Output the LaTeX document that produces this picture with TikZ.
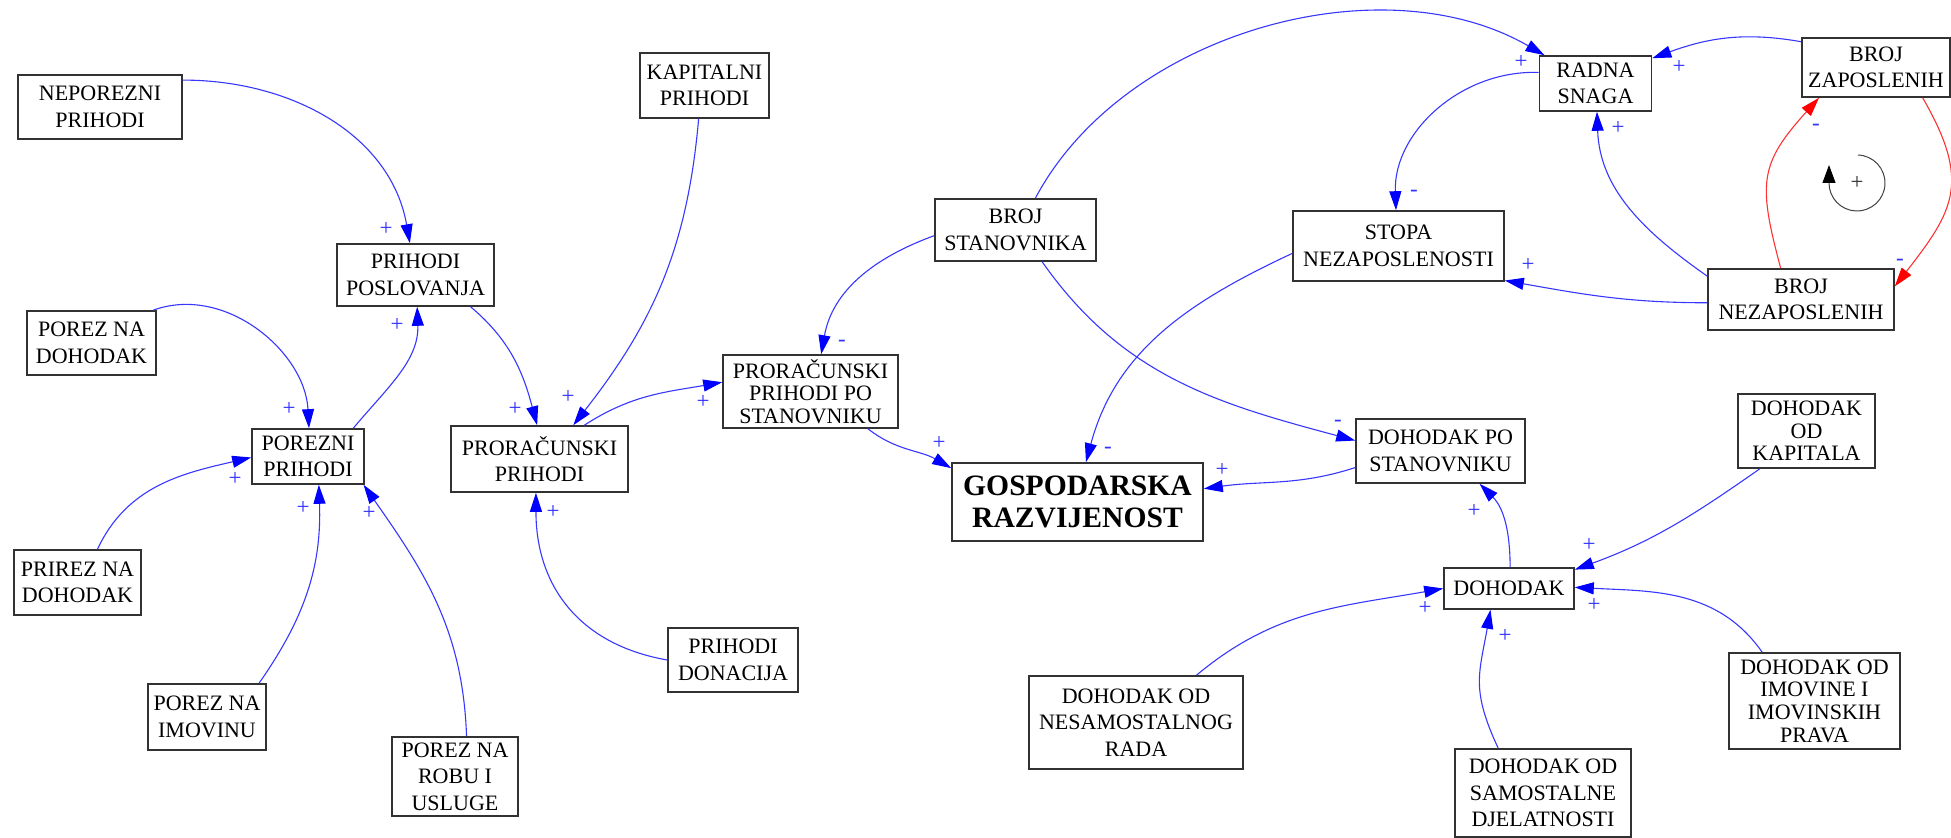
\documentclass[tikz,border=0pt]{standalone}
\usepackage{fontspec}
\setmainfont{Liberation Serif}
\usetikzlibrary{arrows.meta}
\definecolor{boxc}{RGB}{50,50,50}
\definecolor{lineblue}{RGB}{55,55,255}
\definecolor{tipblue}{RGB}{0,0,255}
\definecolor{linered}{RGB}{255,50,50}
\definecolor{tipred}{RGB}{255,0,0}
\definecolor{lblblue}{RGB}{50,50,255}
\tikzset{
  box/.style={draw=boxc, line width=0.8pt, align=center, inner sep=0pt, fill=white,
    font=\fontsize{11}{13.3}\selectfont},
  tight/.style={font=\fontsize{11}{11.3}\selectfont},
  title/.style={font=\fontsize{14.8}{16}\selectfont\bfseries},
  sz/.style 2 args={minimum width=#1*0.5pt, minimum height=#2*0.5pt},
  con/.style={draw=lineblue, line width=0.55pt, -{Triangle[length=9.5pt,width=6pt,color=tipblue]}},
  conr/.style={draw=linered, line width=0.55pt, -{Triangle[length=9.5pt,width=6pt,color=tipred]}},
  lbl/.style={text=lblblue, font=\fontsize{11.5}{11.5}\selectfont, inner sep=0pt}
}
\begin{document}
\begin{tikzpicture}[x=0.5pt,y=-0.5pt]
\fill[white] (0,0) rectangle (1951,838);
\useasboundingbox (0,0) rectangle (1951,838);

% nodes
\node[box, sz={164}{64}] (nep) at (100,107) {NEPOREZNI\\PRIHODI};
\node[box, sz={157}{62}] (pp) at (415.5,275) {PRIHODI\\POSLOVANJA};
\node[box, sz={129}{64}] (pnd) at (91.5,343) {POREZ NA\\DOHODAK};
\node[box, sz={112}{55}] (porp) at (308,456.5) {POREZNI\\PRIHODI};
\node[box, sz={177}{66}] (prp) at (539.5,459) {PRORAČUNSKI\\PRIHODI};
\node[box, sz={127}{65}] (prirez) at (77.5,582.5) {PRIREZ NA\\DOHODAK};
\node[box, sz={118}{66}] (imov) at (207,717) {POREZ NA\\IMOVINU};
\node[box, sz={126}{79}] (robu) at (455,776.5) {POREZ NA\\ROBU I\\USLUGE};
\node[box, sz={129}{65}] (kap) at (704.5,85.5) {KAPITALNI\\PRIHODI};
\node[box, sz={161}{62}] (bs) at (1015.5,230) {BROJ\\STANOVNIKA};
\node[box, tight, sz={175}{73}] (pps) at (810.5,391.5) {PRORAČUNSKI\\PRIHODI PO\\STANOVNIKU};
\node[box, sz={130}{64}] (don) at (733,660) {PRIHODI\\DONACIJA};
\node[box, title, sz={251}{78}] (gr) at (1077.5,502) {GOSPODARSKA\\RAZVIJENOST};
\node[box, sz={169}{64}] (dps) at (1440.5,451) {DOHODAK PO\\STANOVNIKU};
\node[box, sz={112}{55}] (rs) at (1595.5,83.5) {RADNA\\SNAGA};
\node[box, sz={148}{59}] (bz) at (1876,67.5) {BROJ\\ZAPOSLENIH};
\node[box, sz={211}{70}] (sn) at (1398.5,246) {STOPA\\NEZAPOSLENOSTI};
\node[box, sz={186}{61}] (bn) at (1801,299.5) {BROJ\\NEZAPOSLENIH};
\node[box, tight, sz={137}{74}] (dok) at (1806.5,431) {DOHODAK\\OD\\KAPITALA};
\node[box, sz={130}{41}] (doh) at (1509,588.5) {DOHODAK};
\node[box, sz={214}{93}] (nes) at (1136,722.5) {DOHODAK OD\\NESAMOSTALNOG\\RADA};
\node[box, sz={176}{88}] (sam) at (1543,793) {DOHODAK OD\\SAMOSTALNE\\DJELATNOSTI};
\node[box, tight, sz={171}{96}] (imp) at (1814.5,701) {DOHODAK OD\\IMOVINE I\\IMOVINSKIH\\PRAVA};

% connectors
\draw[con] (nep.18) to[out=0,in=100] (pp.100);
\draw[con] (pnd.28) to[out=20,in=93] (porp.88);
\draw[con] (porp.32) to[out=50,in=-88] (pp.-87);
\draw[con] (pp.-30) to[out=-40,in=105] (prp.94);
\draw[con] (kap.-100) to[out=-95,in=52] (prp.45);
\draw[con] (prp.37) to[out=33,in=190] (pps.174);
\draw[con] (prirez.59) to[out=65,in=193] (porp.181);
\draw[con] (imov.33) to[out=55,in=-88] (porp.-69);
\draw[con] (robu.74) to[out=92,in=-55] (porp.-27);
\draw[con] (don.180) to[out=170,in=-90,looseness=1.1] (prp.-96);
\draw[con] (bs.184) to[out=200,in=80] (pps.74);
\draw[con] (pps.-33) to[out=-38,in=150] (gr.165);
\draw[con] (bs.58) to[out=62,in=150,looseness=0.91] (rs.151);
\draw[con] (bs.-50) to[out=-55,in=165] (dps.173);
\draw[con] (sn.184) to[out=205,in=75] (gr.78);
\draw[con] (dps.191) to[out=198,in=8] (gr.6);
\draw[con] (rs.169) to[out=178,in=92] (sn.94);
\draw[con] (bz.161) to[out=170,in=20] (rs.24);
\draw[con] (bn.166) to[out=145,in=-88] (rs.-87);
\draw[con] (bn.182) to[out=180,in=-10] (sn.-18);
\draw[conr] (bn.123) to[out=105,in=228,looseness=1.3] (bz.208);
\draw[conr] (bz.-33) to[out=-60,in=52,looseness=1.3] (bn.8);
\draw[con] (doh.87) to[out=90,in=-45] (dps.-40.5);
\draw[con] (dok.-141) to[out=-145,in=20] (doh.16);
\draw[con] (nes.38) to[out=40,in=190] (doh.180);
\draw[con] (sam.135.6) to[out=115,in=-100,looseness=1.2] (doh.-131);
\draw[con] (imp.137) to[out=125,in=-3] (doh.1);

% polarity labels
\node[lbl] (l1) at (386,229) {+};
\node[lbl] (l2) at (289,409) {+};
\node[lbl] (l3) at (397,325) {+};
\node[lbl] (l4) at (515,409) {+};
\node[lbl] (l5) at (568,397) {+};
\node[lbl] (l6) at (703,402) {+};
\node[lbl] (l7) at (235,479) {+};
\node[lbl] (l8) at (303,508) {+};
\node[lbl] (l9) at (369,513) {+};
\node[lbl] (l10) at (553,512) {+};
\node[lbl] (l11) at (842,343) {-};
\node[lbl] (l12) at (939,443) {+};
\node[lbl] (l13) at (1521,62) {+};
\node[lbl] (l14) at (1338,423) {-};
\node[lbl] (l15) at (1108,450) {-};
\node[lbl] (l16) at (1222,470) {+};
\node[lbl] (l17) at (1414,193) {-};
\node[lbl] (l18) at (1679,67) {+};
\node[lbl] (l19) at (1618,128) {+};
\node[lbl] (l20) at (1528,265) {+};
\node[lbl] (l21) at (1816,127) {-};
\node[lbl] (l22) at (1900,262) {-};
\node[lbl] (l23) at (1474,511) {+};
\node[lbl] (l24) at (1589,545) {+};
\node[lbl] (l25) at (1425,608) {+};
\node[lbl] (l26) at (1505,636) {+};
\node[lbl] (l27) at (1594,605) {+};

% loop symbol
\coordinate (loopc) at (1857,183);
\draw[black!75, line width=0.5pt, -{Triangle[length=9pt,width=6.5pt,color=black]}]
  ([shift={(88:14pt)}]loopc) arc[start angle=88, end angle=-180, radius=14pt] -- ++(0,-18);
\node[font=\fontsize{11.5}{11.5}\selectfont, text=black!80, inner sep=0pt] (loopsign) at (loopc) {+};
\end{tikzpicture}
\end{document}
